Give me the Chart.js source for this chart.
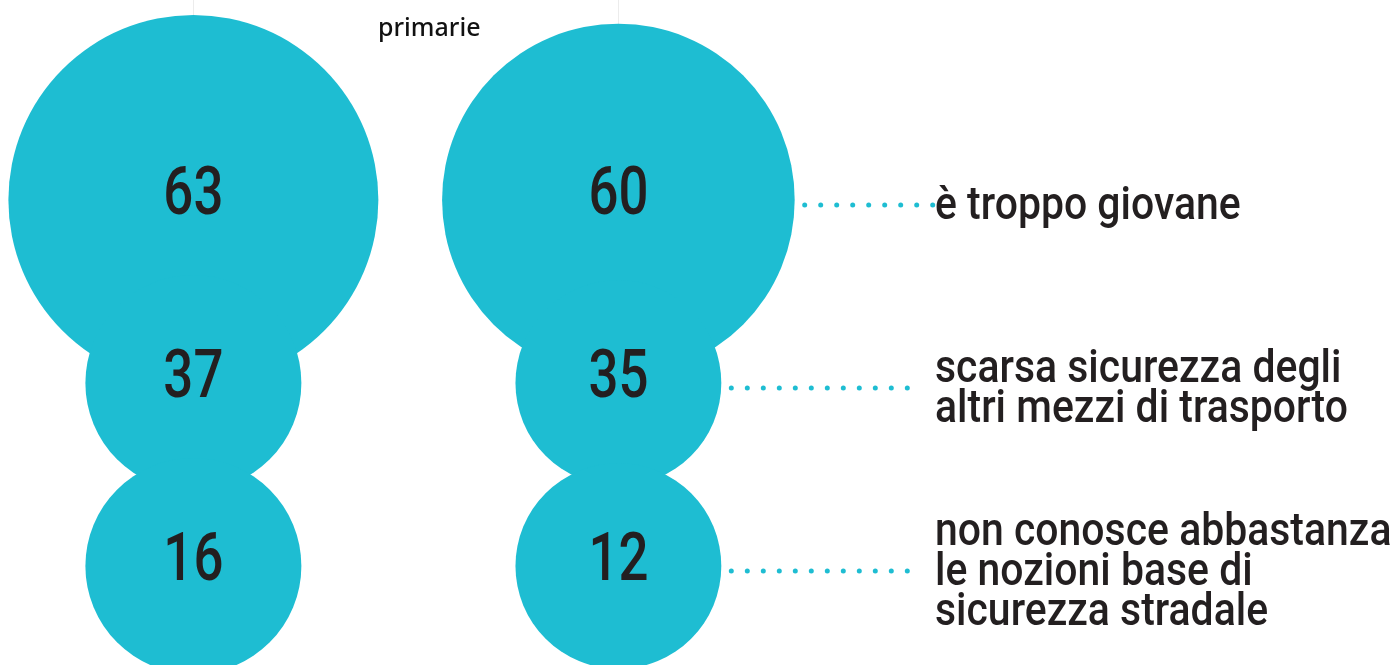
<!DOCTYPE html>
<html>
<head>
<meta charset="utf-8">
<script src="https://cdn.jsdelivr.net/npm/chart.js@4.4.1/dist/chart.umd.min.js"></script>
<style>
    html, body { margin: 0; padding: 0; background: #fff; }
    #wrap { width: 1397px; height: 665px; position: relative; }
</style>
</head>
<body>
<div id="wrap"><canvas id="bubbleChart"></canvas></div>
<script>
// Columns (the first one has no visible header in the picture)
const GROUPS = ['', 'primarie'];

// Reasons, one per row, already split in lines like the picture
const REASONS = [
    ['è troppo giovane'],
    ['scarsa sicurezza degli', 'altri mezzi di trasporto'],
    ['non conosce abbastanza', 'le nozioni base di', 'sicurezza stradale']
];

const VALUES_FIRST = [63, 37, 16];
const VALUES_PRIMARIE = [60, 35, 12];

const BUBBLE_COLOR = '#1ebdd2';
const TEXT_COLOR = '#231f20';
const LABEL_FONT = 'Roboto, "DejaVu Sans Condensed", sans-serif';

// big bubble for the top answer, equal smaller ones for the rest
function bubbleRadius(ctx) {
    const v = ctx.raw ? ctx.raw.v : 0;
    const base = v > 50 ? 185 : 108;
    return ctx.datasetIndex === 1 ? base * 0.953 : base;
}

function toPoints(values, groupIdx) {
    return values.map((v, i) => ({ x: groupIdx, y: i, v: v }));
}

// squeeze text horizontally to get a DIN-like condensed look
function fillCondensed(ctx, text, x, y, sx) {
    ctx.save();
    ctx.translate(x, y);
    ctx.scale(sx, 1);
    ctx.fillText(text, 0, 0);
    ctx.restore();
}

const labelsPlugin = {
    id: 'bubbleLabels',
    afterDatasetsDraw(chart) {
        const ctx = chart.ctx;
        ctx.save();

        // numbers inside the bubbles
        ctx.fillStyle = TEXT_COLOR;
        ctx.textAlign = 'center';
        ctx.textBaseline = 'middle';
        ctx.font = `500 66px ${LABEL_FONT}`;
        chart.data.datasets.forEach((ds, di) => {
            chart.getDatasetMeta(di).data.forEach((el, i) => {
                fillCondensed(ctx, String(ds.data[i].v), el.x, el.y - 3, 0.8);
            });
        });

        // reasons on the right with dotted leaders
        const meta = chart.getDatasetMeta(chart.data.datasets.length - 1);
        const textX = 935;
        const lh = 40;
        ctx.textAlign = 'left';
        ctx.font = `500 46px ${LABEL_FONT}`;
        REASONS.forEach((lines, i) => {
            const el = meta.data[i];
            const dotY = el.y + 5;
            const startX = el.x + el.options.radius + 10;
            const endX = textX - (lines.length > 1 ? 26 : 2);
            ctx.fillStyle = BUBBLE_COLOR;
            for (let x = startX; x <= endX; x += 16) {
                ctx.beginPath();
                ctx.arc(x, dotY, 2.5, 0, Math.PI * 2);
                ctx.fill();
            }
            ctx.fillStyle = TEXT_COLOR;
            const top = dotY - (lines.length - 1) * lh / 2;
            lines.forEach((line, j) => fillCondensed(ctx, line, textX, top + j * lh + 2, 0.89));
        });

        // column header
        ctx.fillStyle = '#111';
        ctx.textBaseline = 'alphabetic';
        ctx.font = '500 25px "Noto Sans", sans-serif';
        ctx.fillText(GROUPS[1], 378, 36);

        ctx.restore();
    }
};

const chart = new Chart(document.getElementById('bubbleChart').getContext('2d'), {
    type: 'bubble',
    data: {
        datasets: [
            { label: GROUPS[0], data: toPoints(VALUES_FIRST, 0) },
            { label: GROUPS[1], data: toPoints(VALUES_PRIMARIE, 1) }
        ]
    },
    options: {
        responsive: true,
        maintainAspectRatio: false,
        animation: false,
        layout: { padding: 0, autoPadding: false },
        elements: {
            point: {
                radius: bubbleRadius,
                backgroundColor: BUBBLE_COLOR,
                borderWidth: 0,
                hoverRadius: 0
            }
        },
        plugins: {
            legend: { display: false },
            tooltip: { enabled: false }
        },
        scales: {
            x: {
                type: 'linear',
                min: -0.455,
                max: 2.832,
                afterBuildTicks: scale => {
                    scale.ticks = GROUPS.map((g, i) => ({ value: i }));
                },
                ticks: { display: false },
                grid: { color: '#ececec', drawTicks: false },
                border: { display: false }
            },
            y: {
                type: 'linear',
                reverse: true,
                min: -1.093,
                max: 2.541,
                display: false
            }
        }
    },
    plugins: [labelsPlugin]
});
</script>
</body>
</html>
